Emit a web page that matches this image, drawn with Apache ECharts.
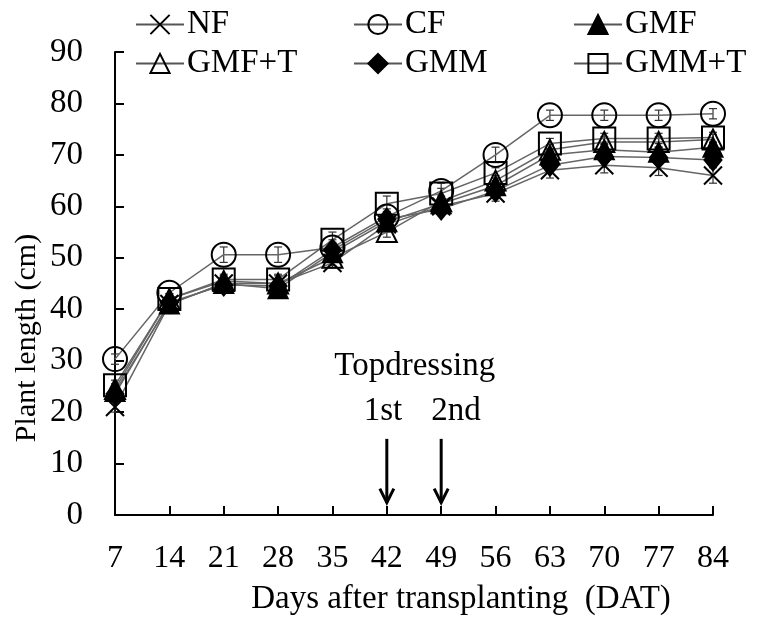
<!DOCTYPE html>
<html>
<head>
<meta charset="utf-8">
<script src="https://cdn.jsdelivr.net/npm/echarts@6/dist/echarts.min.js"></script>
<style>
  html, body { margin: 0; padding: 0; background: #fff; }
  #chart { width: 760px; height: 623px; }
</style>
</head>
<body>
<div id="chart"></div>
<script>
// Sampling days (days after transplanting)
const days = [7, 14, 21, 28, 35, 42, 49, 56, 63, 70, 77, 84];
const yTicks = [0, 10, 20, 30, 40, 50, 60, 70, 80, 90];

// Mean plant length (cm) per treatment
const NF     = [21.0, 41.0, 45.0, 45.0, 49.0, 56.5, 60.0, 62.5, 67.0, 68.0, 67.5, 66.0];
const CF     = [30.3, 43.2, 50.6, 50.6, 52.0, 58.0, 63.0, 70.0, 77.7, 77.7, 77.7, 78.0];
const GMF    = [24.0, 41.0, 45.0, 44.0, 51.0, 57.0, 60.5, 64.0, 70.0, 71.0, 70.5, 71.5];
const GMF_T  = [24.5, 42.0, 45.5, 45.0, 50.0, 55.0, 61.0, 65.0, 71.0, 72.5, 72.5, 73.0];
const GMM    = [23.5, 41.3, 44.7, 44.5, 51.5, 57.5, 59.5, 63.0, 68.0, 69.7, 69.5, 69.0];
const GMM_T  = [25.2, 42.0, 45.8, 45.8, 53.5, 60.5, 62.5, 66.5, 72.2, 73.2, 73.2, 73.4];

// Standard errors (cm)
const NF_err    = [1.0, 1.0, 1.0, 1.5, 1.0, 1.5, 1.0, 1.5, 1.5, 1.5, 1.5, 1.5];
const CF_err    = [1.0, 1.0, 1.5, 1.5, 1.5, 1.5, 1.5, 1.5, 1.0, 1.0, 1.0, 1.0];
const GMF_err   = [1.0, 1.0, 1.0, 1.5, 1.5, 1.0, 1.0, 1.0, 1.0, 1.0, 1.0, 1.0];
const GMF_T_err = [1.0, 1.0, 1.0, 1.0, 1.5, 1.0, 1.0, 1.0, 1.0, 1.0, 1.0, 1.0];
const GMM_err   = [1.0, 1.0, 1.0, 1.0, 1.5, 1.0, 1.0, 1.5, 1.0, 1.0, 1.0, 1.0];
const GMM_T_err = [1.0, 1.0, 1.0, 1.0, 1.5, 1.5, 1.0, 1.0, 1.0, 1.0, 1.0, 1.0];

// Topdressing events
const topdressDays = [42, 49];
const topdressLabels = ['1st', '2nd'];

const FONT = '"Liberation Serif", "Times New Roman", serif';
const LINE_GREY = '#666666';
const CROSS = 'path://M0,0L10,10M10,0L0,10';

const treatments = [
  { name: 'NF',    values: NF,    err: NF_err,    symbol: CROSS,      size: 18, fill: 'rgba(0,0,0,0)' },
  { name: 'CF',    values: CF,    err: CF_err,    symbol: 'circle',   size: 24, fill: 'rgba(0,0,0,0)' },
  { name: 'GMF',   values: GMF,   err: GMF_err,   symbol: 'triangle', size: 19, fill: '#000' },
  { name: 'GMF+T', values: GMF_T, err: GMF_T_err, symbol: 'triangle', size: 20, fill: 'rgba(0,0,0,0)' },
  { name: 'GMM',   values: GMM,   err: GMM_err,   symbol: 'diamond',  size: [17, 21], fill: '#000' },
  { name: 'GMM+T', values: GMM_T, err: GMM_T_err, symbol: 'rect',     size: 22, fill: 'rgba(0,0,0,0)' }
];

const lineSeries = treatments.map(t => ({
  type: 'line',
  name: t.name,
  data: days.map((d, i) => [d, t.values[i]]),
  symbol: t.symbol,
  symbolSize: t.size,
  showAllSymbol: true,
  itemStyle: { color: t.fill, borderColor: '#000', borderWidth: 2 },
  lineStyle: { color: LINE_GREY, width: 1.5 },
  emphasis: { disabled: true },
  z: 3
}));

const errSeries = treatments.map(t => ({
  type: 'custom',
  name: t.name + ' error',
  data: days.map((d, i) => [d, t.values[i] - t.err[i], t.values[i] + t.err[i]]),
  renderItem: (params, api) => {
    const lo = api.coord([api.value(0), api.value(1)]);
    const hi = api.coord([api.value(0), api.value(2)]);
    const cap = 4;
    const st = { stroke: '#333', lineWidth: 1.2 };
    return {
      type: 'group',
      children: [
        { type: 'line', shape: { x1: lo[0], y1: lo[1], x2: hi[0], y2: hi[1] }, style: st },
        { type: 'line', shape: { x1: lo[0] - cap, y1: lo[1], x2: lo[0] + cap, y2: lo[1] }, style: st },
        { type: 'line', shape: { x1: hi[0] - cap, y1: hi[1], x2: hi[0] + cap, y2: hi[1] }, style: st }
      ]
    };
  },
  silent: true,
  z: 2
}));

// Downward arrows marking the topdressing days
const arrowSeries = {
  type: 'custom',
  name: 'topdressing arrows',
  data: topdressDays.map(d => [d, 14.8, 2.4]),
  renderItem: (params, api) => {
    const top = api.coord([api.value(0), api.value(1)]);
    const tip = api.coord([api.value(0), api.value(2)]);
    const st = { stroke: '#000', lineWidth: 3, fill: null };
    return {
      type: 'group',
      children: [
        { type: 'line', shape: { x1: top[0], y1: top[1], x2: tip[0], y2: tip[1] }, style: st },
        { type: 'polyline', shape: { points: [[tip[0] - 7, tip[1] - 14], [tip[0], tip[1]], [tip[0] + 7, tip[1] - 14]] }, style: st }
      ]
    };
  },
  silent: true,
  z: 4
};

const legendCommon = {
  orient: 'vertical',
  top: 8,
  padding: 0,
  itemGap: 6,
  itemWidth: 48,
  itemHeight: 24,
  lineStyle: { color: '#555', width: 2 },
  textStyle: { fontFamily: FONT, fontSize: 33, color: '#000', padding: [0, 0, 0, -2] },
  selectedMode: false
};

const chart = echarts.init(document.getElementById('chart'), null, { renderer: 'canvas' });

chart.setOption({
  animation: false,
  backgroundColor: '#fff',
  grid: { left: 115, right: 47, top: 52, bottom: 108, containLabel: false },
  legend: [
    Object.assign({}, legendCommon, { left: 135, data: ['NF', 'GMF+T'] }),
    Object.assign({}, legendCommon, { left: 353, data: ['CF', 'GMM'] }),
    Object.assign({}, legendCommon, { left: 573, data: ['GMF', 'GMM+T'] })
  ],
  xAxis: {
    type: 'value',
    min: days[0],
    max: days[days.length - 1],
    interval: 7,
    axisLine: { show: true, lineStyle: { color: '#000', width: 2 } },
    axisTick: { show: true, inside: true, length: 9, lineStyle: { color: '#000', width: 2 } },
    axisLabel: { fontFamily: FONT, fontSize: 32, color: '#000', margin: 28,
      formatter: v => (days.indexOf(v) >= 0 ? String(v) : '') },
    splitLine: { show: false },
    name: 'Days after transplanting  (DAT)',
    nameLocation: 'middle',
    nameGap: 68,
    nameTextStyle: { fontFamily: FONT, fontSize: 33, color: '#000', padding: [0, 0, 0, 94] }
  },
  yAxis: {
    type: 'value',
    min: yTicks[0],
    max: yTicks[yTicks.length - 1],
    interval: 10,
    axisLine: { show: true, lineStyle: { color: '#000', width: 2 } },
    axisTick: { show: true, inside: true, length: 9, lineStyle: { color: '#000', width: 2 } },
    axisLabel: { fontFamily: FONT, fontSize: 33, color: '#000', margin: 32 },
    splitLine: { show: false }
  },
  series: [...errSeries, ...lineSeries, arrowSeries]
});

// Text annotations anchored to data coordinates
const topPos = chart.convertToPixel({ gridIndex: 0 }, [45.6, 28.9]);
const subPos = topdressLabels.map((txt, i) =>
  chart.convertToPixel({ gridIndex: 0 }, [[41.5, 50.9][i], 20.2]));

chart.setOption({
  graphic: [
    {
      type: 'text', x: 27, y: 338, rotation: Math.PI / 2,
      style: { text: 'Plant length (cm)', font: '30px ' + FONT, fill: '#000',
        textAlign: 'center', textVerticalAlign: 'middle' }
    },
    {
      type: 'text', x: topPos[0], y: topPos[1],
      style: { text: 'Topdressing', font: '33px ' + FONT, fill: '#000',
        textAlign: 'center', textVerticalAlign: 'middle' }
    },
    ...topdressLabels.map((txt, i) => ({
      type: 'text', x: subPos[i][0], y: subPos[i][1],
      style: { text: txt, font: '33px ' + FONT, fill: '#000',
        textAlign: 'center', textVerticalAlign: 'middle' }
    }))
  ]
});
</script>
</body>
</html>
